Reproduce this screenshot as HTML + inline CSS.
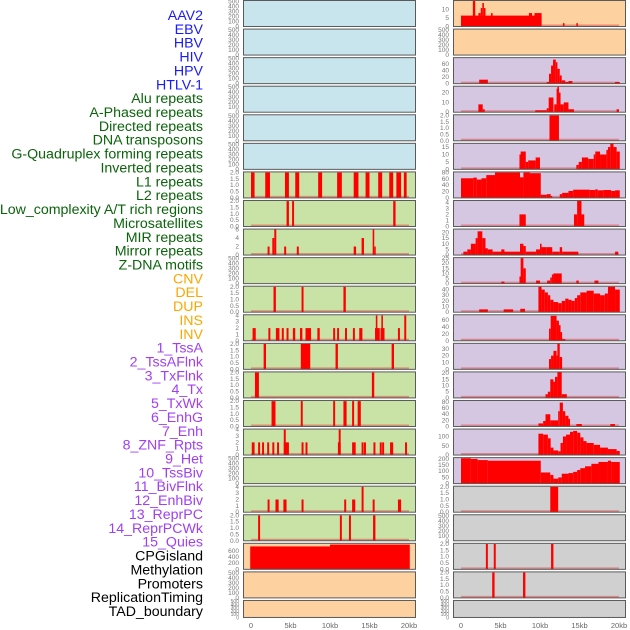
<!DOCTYPE html>
<html><head><meta charset="utf-8">
<style>
html,body{margin:0;padding:0;background:#fff;}
svg{display:block;font-family:"Liberation Sans",sans-serif;}
</style></head>
<body>
<svg id="chart" width="630" height="630" viewBox="0 0 630 630"></svg>
<script>
// ---------- data ----------
const trackLabels = ["AAV2","EBV","HBV","HIV","HPV","HTLV-1","Alu repeats","A-Phased repeats","Directed repeats","DNA transposons","G-Quadruplex forming repeats","Inverted repeats","L1 repeats","L2 repeats","Low_complexity A/T rich regions","Microsatellites","MIR repeats","Mirror repeats","Z-DNA motifs","CNV","DEL","DUP","INS","INV","1_TssA","2_TssAFlnk","3_TxFlnk","4_Tx","5_TxWk","6_EnhG","7_Enh","8_ZNF_Rpts","9_Het","10_TssBiv","11_BivFlnk","12_EnhBiv","13_ReprPC","14_ReprPCWk","15_Quies","CPGisland","Methylation","Promoters","ReplicationTiming","TAD_boundary"];
const labelGroups = ["virus","virus","virus","virus","virus","virus","repeat","repeat","repeat","repeat","repeat","repeat","repeat","repeat","repeat","repeat","repeat","repeat","repeat","sv","sv","sv","sv","sv","state","state","state","state","state","state","state","state","state","state","state","state","state","state","state","other","other","other","other","other"];
const xTickKb = [0,5,10,15,20];
const xTickLabels = ["0","5kb","10kb","15kb","20kb"];
const emptyTicks = [0,100,200,300,400,500];
const binTicks = [0,0.5,1,1.5,2];

// left column segments [startKb, endKb, value]
const leftL1 = [[0,0.45,2],[1.8,2.4,2],[4.3,4.8,2],[5.6,6.1,2],[8.5,9.0,2],[10.9,11.5,2],[13.0,13.6,2],[14.5,15.0,2],[16.1,16.6,2],[17.5,18.0,2],[18.4,19.0,2],[19.35,19.7,2]];
const leftL2 = [[4.5,4.8,2],[5.2,5.45,2],[18.0,18.3,2]];
const leftLowComplex = [[2.1,2.35,2],[2.7,2.95,4],[2.95,3.2,6],[4.2,4.45,2],[5.8,6.05,2],[13.0,13.3,2],[14.0,14.3,4],[15.4,15.6,6],[15.6,15.75,2]];
const leftMir = [[2.85,3.15,2],[6.4,6.65,2],[11.7,12.0,2]];
const leftMirror = [[0.2,0.6,2],[2.2,2.45,2],[3.15,3.6,2],[3.9,4.15,2],[4.5,4.75,2],[5.3,5.6,2],[6.2,6.5,2],[6.9,7.6,2],[8.4,8.7,2],[10.4,10.65,2],[10.9,11.15,2],[11.9,12.15,2],[12.9,13.15,2],[13.7,14.1,2],[15.7,16.3,2],[15.8,16.0,4],[16.4,16.9,2],[16.5,16.7,4],[18.6,18.85,2],[19.4,19.65,4]];
const leftCnv = [[1.6,1.9,2],[6.3,7.5,2],[10.7,11.0,2],[17.8,18.1,2]];
const leftDel = [[0.5,1.0,2],[15.3,15.6,2]];
const leftDup = [[2.6,3.1,2],[6.3,6.55,2],[10.4,10.65,2],[11.7,12.1,2],[12.8,13.05,2],[13.5,13.9,2]];
const leftIns = [[0.1,0.45,2],[0.9,1.15,2],[1.4,1.65,2],[2.05,2.3,2],[2.7,2.95,2],[3.3,3.55,2],[4.15,4.4,4],[4.15,4.8,2],[6.4,6.65,2],[6.9,7.15,2],[11.1,11.35,4],[11.0,11.35,2],[12.8,13.25,2],[14.0,14.25,2],[14.3,14.55,2],[15.5,15.75,2],[16.3,16.55,2],[16.6,16.85,2],[17.6,18.0,2],[19.5,19.75,2]];
const leftTssAFlnk = [[2.1,2.35,2],[3.1,3.5,2],[4.1,4.5,2],[6.4,6.65,2],[11.8,12.05,2],[12.8,13.2,2],[14.0,14.25,4],[15.4,15.65,2],[18.6,19.0,2]];
const leftTx = [[0.9,1.15,2],[11.25,11.5,2],[12.4,12.65,2],[15.45,15.75,2]];
const leftCpg = [[-0.1,10,740],[10,20.1,800]];

// right column segments
const rightAav2 = [[0,10.2,6.5],[1.5,1.8,15.5],[2.2,2.5,8],[2.5,2.7,11],[2.7,2.9,14],[2.9,3.1,11],[3.8,4.0,8],[8.6,9.0,8],[9.3,10.2,8],[12.9,13.1,2],[14.6,14.8,2]];
const rightHiv = [[2.3,3.4,12],[10.85,11.14,5],[11.14,11.4,30],[11.4,11.65,55],[11.65,12.0,73],[12.0,12.2,65],[12.2,12.5,45],[12.5,12.75,25],[12.75,13.2,10],[13.2,13.6,5],[13.6,14.1,8],[19.5,20.1,5]];
const rightHpv = [[2.2,2.75,8],[2.75,3.0,3],[9.4,10.85,2],[10.85,11.1,4],[11.1,11.7,15],[11.8,12.1,8],[12.1,12.2,24],[12.2,12.4,26],[12.4,12.6,20],[12.6,13.0,8],[13.0,13.6,10],[13.6,14.3,3],[19.7,20.0,3]];
const rightAlu = [[11.2,12.4,2]];
const rightAphased = [[7.4,7.55,10],[7.55,8.2,12],[8.2,8.5,5],[8.5,9.45,6],[9.45,10.0,8],[14.6,14.9,3],[14.9,15.3,5],[15.3,16.1,8],[16.1,16.8,7],[16.8,17.0,10],[17.0,17.6,12],[17.6,18.4,10],[18.4,18.6,13],[18.6,18.9,15],[18.9,19.3,17.5],[19.3,19.7,15],[19.7,20.1,12]];
const rightL1 = [[0,1.56,62],[1.56,2.0,64],[2.0,2.6,58],[2.6,3.2,62],[3.2,4.3,72],[4.3,7.47,80],[7.47,7.9,65],[7.9,8.73,80],[8.73,10.1,78],[10.1,10.85,10],[10.85,11.35,12],[11.35,11.5,6],[12.5,12.8,12],[12.8,13.6,16],[13.6,14.2,22],[14.2,16.3,26],[16.3,17.0,25],[17.0,17.3,27],[17.3,18.0,24],[18.0,19.0,25],[19.0,19.5,22],[19.5,20.1,24]];
const rightL2 = [[7.4,8.2,2],[14.3,14.7,2],[14.7,15.25,4.3],[15.25,15.6,2]];
const rightLowComplex = [[0.3,0.8,3],[0.8,1.25,5],[1.25,1.85,10],[1.85,2.1,15],[2.1,2.7,21],[2.7,3.1,15],[3.1,3.4,6],[3.4,4.0,5],[4.0,7.47,3],[5.1,5.5,5],[7.47,7.9,10],[7.9,8.2,8],[8.2,9.5,3],[9.5,10.0,5],[10.0,10.2,10],[10.2,10.85,7],[10.85,11.55,7],[11.55,12.5,3],[12.5,12.8,7],[12.8,14.85,3],[19.5,19.9,3]];
const rightMicro = [[5.1,5.5,2],[7.4,7.55,7],[7.55,7.9,25],[7.9,8.2,15],[9.5,10.0,3],[10.9,11.3,3],[11.3,11.5,6],[11.5,11.7,9],[11.7,12.75,10],[14.6,14.9,3],[16.9,17.4,3]];
const rightMir = [[2.3,3.4,5],[5.4,6.6,5],[7.5,8.1,6],[9.8,10.2,45],[10.2,10.6,40],[10.6,11.0,35],[11.0,11.3,30],[11.3,11.7,22],[11.7,12.3,18],[12.3,12.75,16],[12.75,13.2,20],[13.2,13.6,24],[13.6,14.0,22],[14.0,14.4,20],[14.4,14.7,25],[14.7,15.1,30],[15.1,15.9,35],[15.9,16.8,38],[16.8,17.6,33],[17.6,18.2,30],[18.2,18.6,33],[18.6,19.5,45],[19.5,20.1,40]];
const rightMirror = [[11.14,11.35,35],[11.35,12.1,72],[12.1,12.4,58],[12.4,12.6,45],[12.6,12.8,25],[12.8,13.2,5]];
const rightZdna = [[11.14,11.4,15],[11.4,11.7,20],[11.7,12.1,27],[12.1,12.2,20],[12.2,12.5,38],[12.5,12.8,18]];
const rightCnv = [[10.7,11.0,3],[11.0,11.3,5],[11.3,11.7,15],[11.7,11.9,13],[11.9,12.2,17],[12.2,12.75,21],[12.75,13.4,3]];
const rightDel = [[9.8,10.4,10],[10.4,10.7,18],[10.7,11.3,40],[11.3,12.3,20],[12.3,12.5,50],[12.5,12.9,78],[12.9,13.2,50],[13.2,13.6,35],[13.6,13.8,25],[14.6,15.3,8],[18.9,19.5,8]];
const rightDup = [[9.8,10.4,115],[10.4,11.0,110],[11.0,11.35,90],[11.35,11.7,40],[11.7,12.3,25],[12.3,12.6,20],[12.6,12.9,65],[12.9,13.3,100],[13.3,13.8,110],[13.8,14.2,125],[14.2,14.7,130],[14.7,15.1,120],[15.1,15.5,95],[15.5,15.9,75],[15.9,16.8,65],[16.8,17.6,55],[17.6,18.6,40],[18.6,19.7,32],[19.7,20.1,22]];
const rightIns = [[0,1.25,205],[1.25,2.1,200],[2.1,3.4,190],[3.4,10.1,185],[10.1,11.3,90],[11.3,11.7,70],[11.7,12.3,40],[12.3,12.75,50],[12.75,13.6,80],[13.6,14.2,85],[14.2,14.7,95],[14.7,15.1,110],[15.1,15.7,125],[15.7,16.5,140],[16.5,17.4,160],[17.4,18.6,175],[18.6,19.0,185],[19.0,20.1,175]];
const rightInv = [[11.3,12.3,2]];
const rightTssAFlnk = [[3.15,3.4,2],[4.15,4.4,2],[11.4,11.7,2]];
const rightTxFlnk = [[3.95,4.25,2],[7.85,8.15,2]];

const BLUE="#c8e4ec", GREEN="#c9e2a6", ORANGE="#fed1a0", PURPLE="#d5c6e2", GRAY="#d0d0d0";
const leftPanels = [
 [null,520,emptyTicks,BLUE],[null,520,emptyTicks,BLUE],[null,520,emptyTicks,BLUE],[null,520,emptyTicks,BLUE],[null,520,emptyTicks,BLUE],[null,520,emptyTicks,BLUE],
 [leftL1,2.05,binTicks,GREEN],[leftL2,2.05,binTicks,GREEN],[leftLowComplex,6.1,[0,2,4,6],GREEN],[null,520,emptyTicks,GREEN],
 [leftMir,2.05,binTicks,GREEN],[leftMirror,4.1,[0,1,2,3,4],GREEN],[leftCnv,2.05,binTicks,GREEN],[leftDel,2.05,binTicks,GREEN],[leftDup,2.05,binTicks,GREEN],
 [leftIns,4.1,[0,1,2,3,4],GREEN],[null,520,emptyTicks,GREEN],[leftTssAFlnk,4.1,[0,1,2,3,4],GREEN],[leftTx,2.05,binTicks,GREEN],
 [leftCpg,840,[0,200,400,600],ORANGE],[null,520,emptyTicks,ORANGE],[null,520,emptyTicks,ORANGE]
];
const rightPanels = [
 [rightAav2,15.5,[0,5,10],ORANGE],[null,520,emptyTicks,ORANGE],
 [rightHiv,79,[0,20,40,60],PURPLE],[rightHpv,26.5,[0,10,20],PURPLE],[rightAlu,2.05,binTicks,PURPLE],[rightAphased,17.5,[0,5,10,15],PURPLE],
 [rightL1,82,[0,20,40,60,80],PURPLE],[rightL2,4.3,[0,1,2,3,4],PURPLE],[rightLowComplex,23,[0,5,10,15,20],PURPLE],[rightMicro,25.5,[0,5,10,15,20,25],PURPLE],
 [rightMir,46,[0,10,20,30,40],PURPLE],[rightMirror,75,[0,20,40,60],PURPLE],[rightZdna,38,[0,10,20,30],PURPLE],[rightCnv,21,[0,5,10,15,20],PURPLE],
 [rightDel,85,[0,20,40,60,80],PURPLE],[rightDup,140,[0,50,100],PURPLE],[rightIns,210,[0,50,100,150,200],PURPLE],
 [rightInv,2.05,binTicks,GRAY],[null,520,emptyTicks,GRAY],[rightTssAFlnk,2.05,binTicks,GRAY],[rightTxFlnk,2.05,binTicks,GRAY],[null,520,emptyTicks,GRAY]
];

// ---------- drawing ----------
const NS="http://www.w3.org/2000/svg";
const svg=document.getElementById('chart');
function mk(tag,attrs,parent){const e=document.createElementNS(NS,tag);for(const k in attrs)e.setAttribute(k,attrs[k]);(parent||svg).appendChild(e);return e;}
const groupColor={virus:"#1a1aff",repeat:"#0b640b",sv:"#ffa500",state:"#a040f0",other:"#000"};

const labelsG=mk('g',{});


trackLabels.forEach((t,i)=>{
  const el=mk('text',{x:203,y:15+i*13.86+5,'text-anchor':'end','font-size':14.2,fill:groupColor[labelGroups[i]]},labelsG);
  el.textContent=t;
  
  
});

function xScale(left,kb){return left+8+kb*7.9;}
function fmtTick(v,ticks){return ticks===binTicks?v.toFixed(1):String(v);}

function drawPanel(p,col,row){
  const left=col===0?243:453, w=173;
  const top=row*28.57+0.5, h=row===21?17:26;
  const [data,ymax,ticks,bg]=p;
  const g=mk('g',{});
  
  
  mk('rect',{x:left,y:top,width:w,height:h,fill:bg},g);
  const y=v=>top+h-(v/ymax)*h;
  ticks.forEach(tv=>{
    const tl=mk('text',{x:left-4,y:y(tv)+2,'text-anchor':'end','font-size':h<20?5:6.5,fill:'#777'},g);
    tl.textContent=fmtTick(tv,ticks);
    
    
  });
  if(data){
    mk('line',{x1:xScale(left,0),x2:xScale(left,20),y1:top+h-1,y2:top+h-1,stroke:'#e04040','stroke-width':2,'stroke-opacity':0.5},g);
    data.forEach(d=>{
      const x0=Math.max(left+1,xScale(left,d[0])), x1=Math.min(left+w-1,xScale(left,d[1]));
      const yy=Math.max(top,y(d[2]));
      const r=mk('rect',{x:x0,y:yy,width:Math.max(1.5,x1-x0),height:top+h-yy,fill:'#ff0000'},g);
      
      
    });
  }
  mk('rect',{x:left+0.5,y:top,width:w-1,height:h,fill:'none',stroke:'#5a5a5a','stroke-width':1},g);
}
leftPanels.forEach((p,i)=>drawPanel(p,0,i));
rightPanels.forEach((p,i)=>drawPanel(p,1,i));

[243,453].forEach((left,ci)=>{
  const ax=mk('g',{});
  
  
  xTickKb.forEach((kb,i)=>{
    const t=mk('text',{x:xScale(left,kb),y:628,'text-anchor':'middle','font-size':7.5,fill:'#666'},ax);
    t.textContent=xTickLabels[i];
    
    
  });
});
</script>
</body></html>
